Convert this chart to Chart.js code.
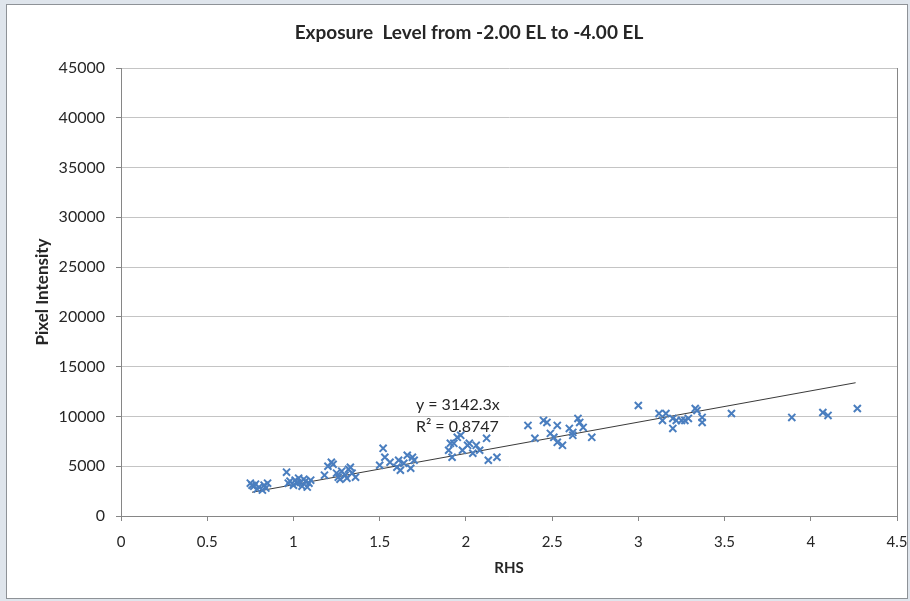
<!DOCTYPE html>
<html>
<head>
<meta charset="utf-8">
<style>
  html, body { margin: 0; padding: 0; background: #dfe5ec; }
  #wrap { position: absolute; left: 0; top: 0; width: 910px; height: 601px; }
</style>
<script src="https://cdn.jsdelivr.net/npm/chart.js@4.4.1/dist/chart.umd.min.js"></script>
</head>
<body>
<div id="wrap"><canvas id="c" width="910" height="601"></canvas></div>
<script>
// RHS readings and measured pixel intensity for each sample
const rhs = [
  0.75, 0.76, 0.77, 0.78, 0.79, 0.80, 0.82, 0.83, 0.84, 0.85,
  0.96, 0.97, 0.98, 1.00, 1.01, 1.02, 1.03, 1.04, 1.05, 1.06, 1.07, 1.08, 1.09, 1.10,
  1.18, 1.20, 1.22, 1.23, 1.25, 1.26, 1.27, 1.28, 1.30, 1.31, 1.32, 1.33, 1.34, 1.36,
  1.50, 1.52, 1.53, 1.56, 1.60, 1.61, 1.62, 1.64, 1.66, 1.68, 1.69, 1.70,
  1.90, 1.91, 1.92, 1.93, 1.95, 1.97, 1.98, 2.01, 2.02, 2.04, 2.06, 2.08, 2.12, 2.13, 2.18,
  2.36, 2.40, 2.45, 2.47, 2.49, 2.51, 2.53, 2.53, 2.56, 2.60, 2.62, 2.62, 2.65, 2.66, 2.68, 2.73,
  3.00, 3.12, 3.14, 3.16, 3.20, 3.20, 3.22, 3.25, 3.27, 3.29, 3.33, 3.34, 3.37, 3.37, 3.54, 3.89, 4.07, 4.10, 4.27
];
const intensity = [
  3300, 3100, 3000, 3200, 2700, 2900, 2600, 3100, 2800, 3300,
  4400, 3300, 3500, 3100, 3600, 3300, 3800, 3400, 3000, 3700, 3500, 2900, 3300, 3600,
  4100, 5000, 5400, 5200, 4300, 3900, 3700, 4500, 4100, 3800, 4700, 4900, 4300, 3900,
  5100, 6800, 5900, 5400, 4900, 5600, 4600, 5300, 6100, 4800, 5900, 5600,
  6600, 7300, 5900, 7300, 7900, 8100, 6600, 7100, 7300, 6300, 7100, 6600, 7800, 5600, 5900,
  9100, 7800, 9600, 9400, 8300, 7900, 9100, 7400, 7100, 8800, 8400, 8100, 9800, 9400, 8900, 7900,
  11100, 10300, 9600, 10300, 8800, 9800, 9600, 9600, 9600, 9800, 10800, 10600, 9900, 9400, 10300, 9900, 10400, 10100, 10800
];

// Linear trend through the origin
const trendSlope = 3142.3;
const trendR2 = 0.8747;
const trendRange = [0.76, 4.26];

const xTicks = [0, 0.5, 1, 1.5, 2, 2.5, 3, 3.5, 4, 4.5];
const yTicks = [0, 5000, 10000, 15000, 20000, 25000, 30000, 35000, 40000, 45000];

const chartTitle = 'Exposure  Level from -2.00 EL to -4.00 EL';

const points = rhs.map((x, i) => ({ x: x, y: intensity[i] }));
const trendPoints = trendRange.map(x => ({ x: x, y: trendSlope * x }));

const FONT = "Lato, 'Open Sans', 'DejaVu Sans', sans-serif";
const TEXT = '#262626';
const AXIS = '#868686';
const GRID = '#c4c4c4';

// White panel with a thin border behind the chart, plus the heading
const panel = {
  id: 'panel',
  beforeDraw(chart) {
    const ctx = chart.ctx;
    ctx.save();
    ctx.fillStyle = '#dfe5ec';
    ctx.fillRect(0, 0, chart.width, chart.height);
    ctx.fillStyle = '#ffffff';
    ctx.fillRect(7, 4, 901, 595);
    ctx.strokeStyle = '#8e9297';
    ctx.lineWidth = 1;
    ctx.strokeRect(6.5, 4.5, 901, 594);
    ctx.fillStyle = TEXT;
    ctx.font = "bold 19px " + FONT;
    ctx.textAlign = 'center';
    ctx.textBaseline = 'middle';
    ctx.fillText(chartTitle, 469, 33);
    ctx.restore();
  },
  afterDatasetsDraw(chart) {
    // outline of the plot area (right edge)
    const a = chart.chartArea;
    const ctx = chart.ctx;
    ctx.save();
    ctx.strokeStyle = AXIS;
    ctx.lineWidth = 1;
    ctx.beginPath();
    ctx.moveTo(Math.round(a.right) + 0.5, a.top);
    ctx.lineTo(Math.round(a.right) + 0.5, a.bottom);
    ctx.stroke();
    ctx.restore();
  }
};

// Trendline equation label
const equation = {
  id: 'equation',
  afterDraw(chart) {
    const xs = chart.scales.x, ys = chart.scales.y;
    const ctx = chart.ctx;
    const px = xs.getPixelForValue(1.71);
    const py = ys.getPixelForValue(11200);
    ctx.save();
    ctx.fillStyle = TEXT;
    ctx.font = "16px " + FONT;
    ctx.textAlign = 'left';
    ctx.textBaseline = 'middle';
    ctx.fillText('y = ' + trendSlope + 'x', px, py);
    ctx.fillText('R\u00b2 = ' + trendR2, px, py + 22);
    ctx.restore();
  }
};

new Chart(document.getElementById('c'), {
  type: 'scatter',
  data: {
    datasets: [
      {
        label: 'Pixel Intensity',
        data: points,
        pointStyle: 'crossRot',
        pointRadius: 5,
        pointHoverRadius: 5,
        borderColor: '#4a7ebf',
        backgroundColor: '#4a7ebf',
        borderWidth: 2
      },
      {
        label: 'Linear trend',
        type: 'line',
        data: trendPoints,
        borderColor: '#3a3a3a',
        borderWidth: 1,
        pointRadius: 0,
        fill: false
      }
    ]
  },
  options: {
    responsive: false,
    animation: false,
    events: [],
    layout: { padding: { left: 0, right: 13, top: 68, bottom: 0 } },
    plugins: {
      legend: { display: false },
      tooltip: { enabled: false },
      title: { display: false }
    },
    scales: {
      x: {
        type: 'linear',
        min: 0,
        max: 4.5,
        afterBuildTicks(s) { s.ticks = xTicks.map(v => ({ value: v })); },
        afterFit(s) { s.height = 85; s.paddingRight = 0; s.paddingLeft = 0; },
        ticks: {
          color: TEXT,
          font: { family: FONT, size: 15 },
          padding: 12,
          maxRotation: 0,
          callback: v => String(v)
        },
        grid: { drawOnChartArea: false, drawTicks: true, tickLength: 5, color: AXIS },
        border: { display: true, color: AXIS, width: 1 },
        title: {
          display: true,
          text: 'RHS',
          color: TEXT,
          font: { family: FONT, size: 15, weight: 'bold', lineHeight: 1.2 },
          padding: { top: 0, bottom: 24 }
        }
      },
      y: {
        type: 'linear',
        min: 0,
        max: 45000,
        afterBuildTicks(s) { s.ticks = yTicks.map(v => ({ value: v })); },
        afterFit(s) { s.width = 121; s.paddingTop = 0; s.paddingBottom = 0; },
        ticks: {
          color: TEXT,
          font: { family: FONT, size: 16 },
          padding: 11,
          callback: v => String(v)
        },
        grid: {
          drawOnChartArea: true,
          drawTicks: true,
          tickLength: 5,
          color: ctx => (ctx.tick && ctx.tick.value === 0 ? AXIS : GRID),
          tickColor: AXIS
        },
        border: { display: true, color: AXIS, width: 1 },
        title: {
          display: true,
          text: 'Pixel Intensity',
          color: TEXT,
          font: { family: FONT, size: 17, weight: 'bold', lineHeight: 1.2 },
          padding: { top: 32, bottom: 0 }
        }
      }
    }
  },
  plugins: [panel, equation]
});
</script>
</body>
</html>
